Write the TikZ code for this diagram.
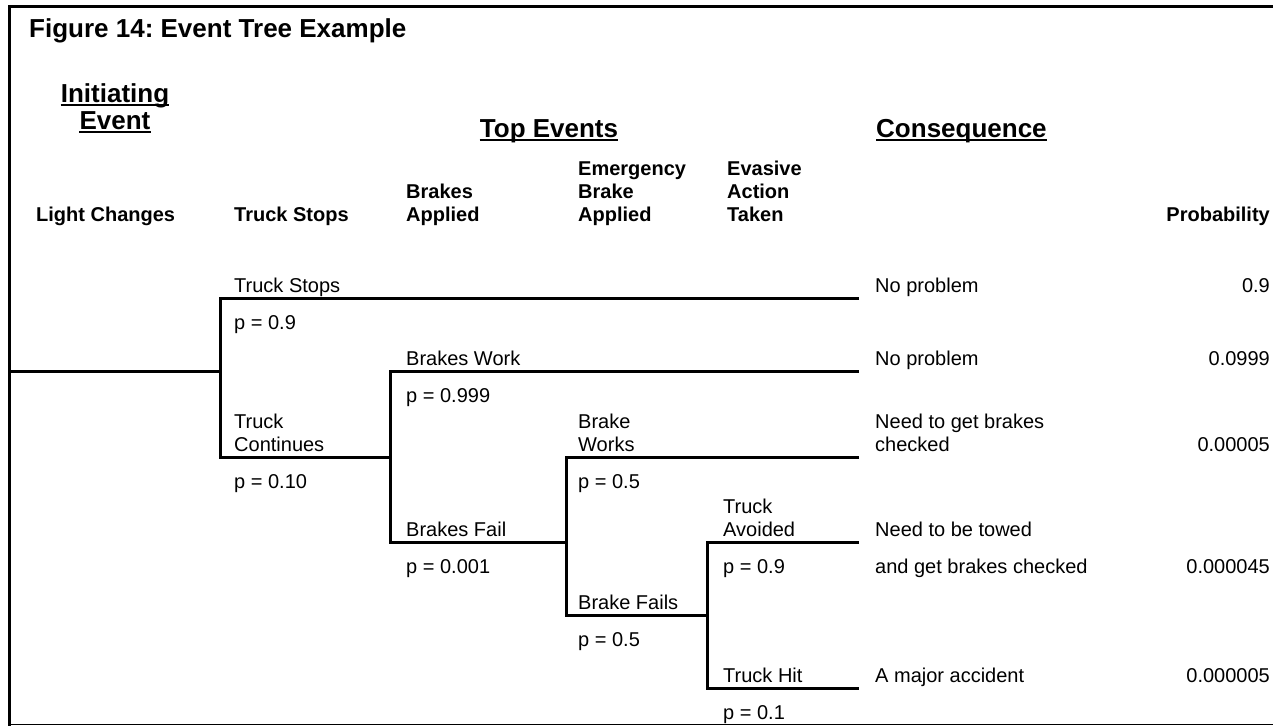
\documentclass[tikz,border=0pt]{standalone}
\usepackage{fontspec}
\setmainfont{Liberation Sans}
\frenchspacing
\begin{document}
\begin{tikzpicture}[x=1pt,y=-1pt,
  lbl/.style={anchor=base west,inner sep=0pt,font=\fontsize{20}{23}\selectfont,align=left},
  prob/.style={anchor=base east,inner sep=0pt,font=\fontsize{20}{23}\selectfont},
  colhead/.style={anchor=base west,inner sep=0pt,font=\fontsize{20}{23}\selectfont\bfseries,align=left},
  bighead/.style={anchor=base,inner sep=0pt,font=\fontsize{26}{26}\selectfont\bfseries},
  branch/.style={line width=3pt},
  uline/.style={line width=2.2pt}]
\useasboundingbox (0,0) rectangle (1273,726);
% frame
\draw[line width=3pt] (1273,6.5) -- (9,6.5) -- (9,726);
\draw[line width=1.5pt] (9,724.5) -- (1273,724.5);
% title
\node[anchor=base west,inner sep=0pt,font=\fontsize{26}{26}\selectfont\bfseries] (title) at (29,37) {Figure 14: Event Tree Example};
% headings
\node[bighead] (ie1) at (115,102) {Initiating};
\node[bighead] (ie2) at (115,129) {Event};
\node[bighead] (te) at (549,137) {Top Events};
\node[bighead,anchor=base west] (cq) at (876,137) {Consequence};
\foreach \n in {ie1,ie2,te,cq}
  \draw[uline] ([yshift=-3.2pt]\n.base west) -- ([yshift=-3.2pt]\n.base east);
% column headings (base = last line)
\node[colhead] (h1) at (36,221) {Light Changes};
\node[colhead] (h2) at (234,221) {Truck Stops};
\node[colhead] (h3) at (406,221) {Brakes\\Applied};
\node[colhead] (h4) at (578,221) {Emergency\\Brake\\Applied};
\node[colhead] (h5) at (727,221) {Evasive\\Action\\Taken};
\node[colhead,anchor=base east] (h6) at (1270,221) {Probability};
% tree coordinates
\coordinate (s0) at (9,371);
\coordinate (a) at (220,371);
\coordinate (aT) at (220,298);
\coordinate (aB) at (220,457);
\coordinate (e1) at (859,298);
\coordinate (b) at (390,457);
\coordinate (bT) at (390,371);
\coordinate (bB) at (390,542);
\coordinate (e2) at (859,371);
\coordinate (c) at (566,542);
\coordinate (cT) at (566,457);
\coordinate (cB) at (566,615);
\coordinate (e3) at (859,457);
\coordinate (d) at (707,615);
\coordinate (dT) at (707,542);
\coordinate (dB) at (707,688);
\coordinate (e4) at (859,542);
\coordinate (e5) at (859,688);
\draw[branch] (s0) -- (a);
\draw[branch] (e1) -- (aT) -- (aB) -- (b);
\draw[branch] (e2) -- (bT) -- (bB) -- (c);
\draw[branch] (e3) -- (cT) -- (cB) -- (d);
\draw[branch] (e4) -- (dT) -- (dB) -- (e5);
% branch labels
\node[lbl] (l1) at (234,292) {Truck Stops};
\node[lbl] (p1) at (234,329) {p = 0.9};
\node[lbl] (l2) at (234,451) {Truck\\Continues};
\node[lbl] (p2) at (234,488) {p = 0.10};
\node[lbl] (l3) at (406,365) {Brakes Work};
\node[lbl] (p3) at (406,402) {p = 0.999};
\node[lbl] (l4) at (406,536) {Brakes Fail};
\node[lbl] (p4) at (406,573) {p = 0.001};
\node[lbl] (l5) at (578,451) {Brake\\Works};
\node[lbl] (p5) at (578,488) {p = 0.5};
\node[lbl] (l6) at (578,609) {Brake Fails};
\node[lbl] (p6) at (578,646) {p = 0.5};
\node[lbl] (l7) at (723,536) {Truck\\Avoided};
\node[lbl] (p7) at (723,573) {p = 0.9};
\node[lbl] (l8) at (723,682) {Truck Hit};
\node[lbl] (p8) at (723,719) {p = 0.1};
% consequences
\node[lbl] (c1) at (875,292) {No problem};
\node[lbl] (c2) at (875,365) {No problem};
\node[lbl] (c3) at (875,451) {Need to get brakes\\checked};
\node[lbl] (c4) at (875,536) {Need to be towed};
\node[lbl] (c5) at (875,573) {and get brakes checked};
\node[lbl] (c6) at (875,682) {A major accident};
% probabilities
\node[prob] (q1) at (1270,292) {0.9};
\node[prob] (q2) at (1270,365) {0.0999};
\node[prob] (q3) at (1270,451) {0.00005};
\node[prob] (q4) at (1270,573) {0.000045};
\node[prob] (q5) at (1270,682) {0.000005};
\end{tikzpicture}
\end{document}
